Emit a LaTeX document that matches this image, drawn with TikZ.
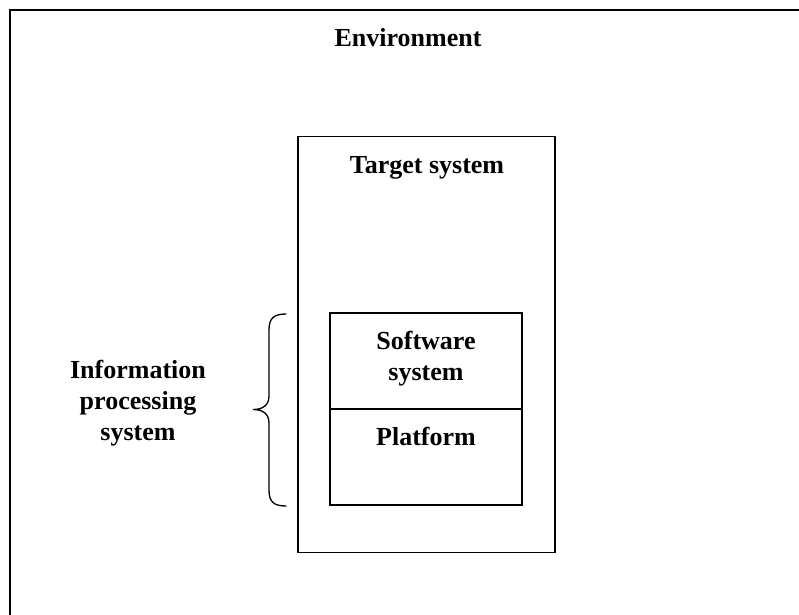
\documentclass[tikz,border=0pt]{standalone}
\usepackage{fontspec}
\setmainfont{Liberation Serif}
\usetikzlibrary{positioning}
\tikzset{
  lbl/.style={font=\fontsize{26}{31}\selectfont\bfseries, inner sep=0pt, align=center},
  box/.style={draw, line width=1.3pt, inner sep=0pt, outer sep=0pt},
  frame/.style={draw, line width=2pt},
  brc/.style={draw, line width=1.3pt, line cap=round}
}

\begin{document}
\begin{tikzpicture}[x=1pt, y=-1pt]
\useasboundingbox (0,0) rectangle (799,614);
\clip (0,0) rectangle (799,614);
% environment, cut off at right and bottom
\draw[frame] (10,10) rectangle (840,660);
\node[lbl, anchor=base] (env) at (408,46) {Environment};
% target system
\node[box, minimum width=257pt, minimum height=416pt] (target) at (426.5,344.5) {};
\node[lbl, anchor=base] (tgt) at (427,173) {Target system};
\node[box, minimum width=192pt, minimum height=96pt] (sw) at (426,361) {};
\node[box, minimum width=192pt, minimum height=96pt, below=0pt of sw] (pf) {};
\node[lbl] (swl) at (426,358.5) {Software\\system};
\node[lbl, anchor=base] (pfl) at (426,445) {Platform};
% brace
\coordinate (bt) at (286,314);
\coordinate (bm) at (253,409.5);
\coordinate (bb) at (286,506);
\draw[brc] (bt) .. controls (274,314) and (269,318) .. (269,330) -- (269,396)
  .. controls (269,405) and (263,409.5) .. (bm)
  .. controls (263,409.5) and (269,414) .. (269,423) -- (269,490)
  .. controls (269,502) and (274,506) .. (bb);
\node[lbl] (ips) at (138,403.5) {Information\\processing\\system};
\end{tikzpicture}
\end{document}
